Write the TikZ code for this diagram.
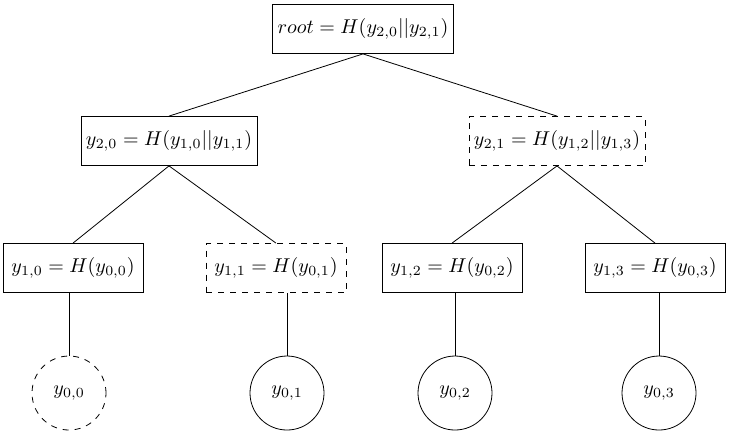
\documentclass[tikz,border=0pt]{standalone}
\usepackage{amsmath}
\usepackage{tikz}
\usetikzlibrary{positioning}

\tikzset{
  hashbox/.style={draw, rectangle, minimum width=70pt, minimum height=24.5pt, inner xsep=2.5pt},
  leaf/.style={draw, circle, minimum size=37pt, inner sep=0pt},
  authpath/.style={dashed}
}

\begin{document}
\begin{tikzpicture}[x=0.5pt, y=-0.5pt]
    \useasboundingbox (0,0) rectangle (731,435);

    % Define nodes
    \node[hashbox]		(root)	at (363,29)	{$ root = H(y_{2,0}||y_{2,1}) $};
    \node[hashbox]		(y20)	at (169,141)	{$ y_{2,0} = H(y_{1,0}||y_{1,1}) $};
    \node[hashbox, authpath]	(y21)	at (557,141)	{$ y_{2,1} = H(y_{1,2}||y_{1,3}) $};

    \node[hashbox]		(y10)	at (73,268)	{$ y_{1,0} = H(y_{0,0}) $};
    \node[hashbox, authpath]	(y11)	at (276,268)	{$ y_{1,1} = H(y_{0,1}) $};
    \node[hashbox]		(y12)	at (452,268)	{$ y_{1,2} = H(y_{0,2}) $};
    \node[hashbox]		(y13)	at (655,268)	{$ y_{1,3} = H(y_{0,3}) $};

    \node[leaf, authpath]	(y00)	at (69,393)	{$ y_{0,0} $};
    \node[leaf]		(y01)	at (287,393)	{$ y_{0,1} $};
    \node[leaf]		(y02)	at (455,393)	{$ y_{0,2} $};
    \node[leaf]		(y03)	at (659,393)	{$ y_{0,3} $};

    % Connect nodes
    \draw (root.south) -- (y20.north);
    \draw (root.south) -- (y21.north);
    \draw (y20.south) -- (y10.north);
    \draw (y20.south) -- (y11.north);
    \draw (y21.south) -- (y12.north);
    \draw (y21.south) -- (y13.north);

    % leaves hang straight down
    \draw (y00.north) -- (y00.north |- y10.south);
    \draw (y01.north) -- (y01.north |- y11.south);
    \draw (y02.north) -- (y02.north |- y12.south);
    \draw (y03.north) -- (y03.north |- y13.south);
\end{tikzpicture}
\end{document}
